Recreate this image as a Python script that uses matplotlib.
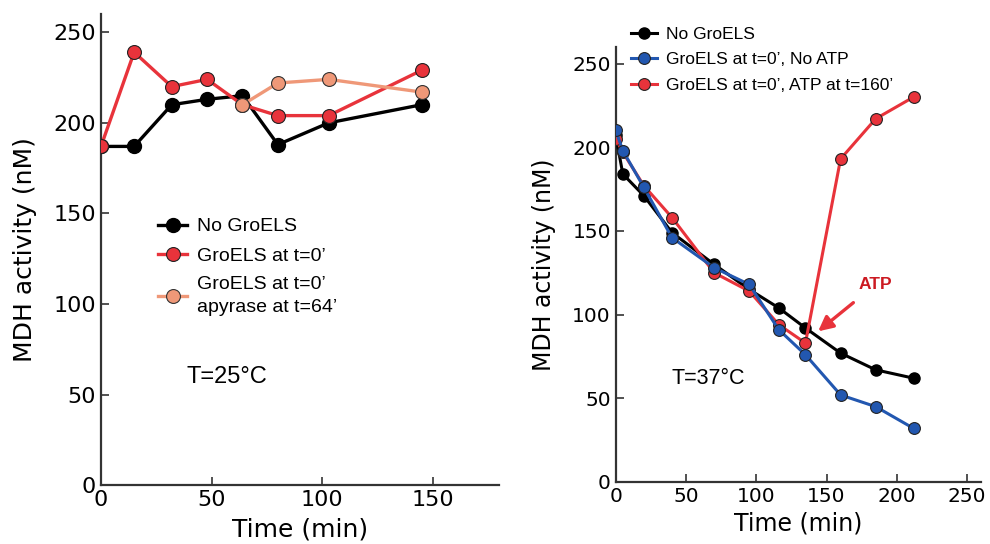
import matplotlib
matplotlib.use('Agg')
import matplotlib.pyplot as plt

# left panel, T=25C
t25_black = [0, 15, 32, 48, 64, 80, 103, 145]
y25_black = [187, 187, 210, 213, 215, 188, 200, 210]
t25_red = [0, 15, 32, 48, 64, 80, 103, 145]
y25_red = [187, 239, 220, 224, 210, 204, 204, 229]
t25_apy = [64, 80, 103, 145]
y25_apy = [210, 222, 224, 217]

# right panel, T=37C
t37 = [0, 5, 20, 40, 70, 95, 116, 135, 160, 185, 212]
y37_black = [207, 184, 171, 149, 130, 115, 104, 92, 77, 67, 62]
y37_blue = [210, 198, 176, 146, 128, 118, 91, 76, 52, 45, 32]
t37_red = [0, 5, 20, 40, 70, 95, 116, 135, 160, 185, 212]
y37_red = [205, 197, 177, 158, 125, 114, 94, 83, 193, 217, 230]

labels_left = ['No GroELS', "GroELS at t=0’", "GroELS at t=0’\napyrase at t=64’"]
labels_right = ['No GroELS', "GroELS at t=0’, No ATP", "GroELS at t=0’, ATP at t=160’"]

RED = '#e8333b'
SALMON = '#ef9878'
BLUE = '#2257b0'
sans = ['Liberation Sans', 'DejaVu Sans']

fig = plt.figure(figsize=(9.9, 5.44), dpi=100)


def style(ax, fs):
    for s in ['top', 'right']:
        ax.spines[s].set_visible(False)
    for s in ['left', 'bottom']:
        ax.spines[s].set_linewidth(1.6)
        ax.spines[s].set_color('#333333')
    ax.tick_params(direction='in', length=6, width=1.2, labelsize=fs, color='#333333')


ax1 = fig.add_axes([0.102, 0.108, 0.402, 0.866])
ax1.plot(t25_black, y25_black, '-o', color='black', lw=2.4, ms=10, mec='black', label=labels_left[0], zorder=3)
ax1.plot(t25_red, y25_red, '-o', color=RED, lw=2.4, ms=10, mec='#222222', mew=0.8, label=labels_left[1], zorder=4)
ax1.plot(t25_apy, y25_apy, '-o', color=SALMON, lw=2.4, ms=10, mec='#333333', mew=0.8, label=labels_left[2], zorder=5)
ax1.set_xlim(0, 180)
ax1.set_ylim(0, 260)
ax1.set_xticks([0, 50, 100, 150])
ax1.set_yticks([0, 50, 100, 150, 200, 250])
style(ax1, 16)
ax1.set_xlabel('Time (min)', fontsize=18, labelpad=5)
ax1.set_ylabel('MDH activity (nM)', fontsize=18, labelpad=12)
ax1.text(57, 60, 'T=25°C', fontsize=17, family=sans, ha='center', va='center')
leg1 = ax1.legend(loc='upper left', bbox_to_anchor=(0.1, 0.605), frameon=False,
                  prop={'family': sans, 'size': 14}, handlelength=1.5, handletextpad=0.5,
                  labelspacing=0.6)
for t in leg1.get_texts():
    t.set_linespacing(1.45)

ax2 = fig.add_axes([0.622, 0.114, 0.369, 0.800])
ax2.plot(t37, y37_black, '-o', color='black', lw=2.2, ms=8, mec='black', label=labels_right[0], zorder=3)
ax2.plot(t37, y37_blue, '-o', color=BLUE, lw=2.2, ms=8.5, mec='#222222', mew=0.8, label=labels_right[1], zorder=5)
ax2.plot(t37_red, y37_red, '-o', color=RED, lw=2.2, ms=8.5, mec='#222222', mew=0.8, label=labels_right[2], zorder=4)
ax2.set_xlim(0, 260)
ax2.set_ylim(0, 260)
ax2.set_xticks([0, 50, 100, 150, 200, 250])
ax2.set_yticks([0, 50, 100, 150, 200, 250])
style(ax2, 14.5)
ax2.set_xlabel('Time (min)', fontsize=17, labelpad=4)
ax2.set_ylabel('MDH activity (nM)', fontsize=17, labelpad=12)
ax2.text(66, 62, 'T=37°C', fontsize=15.5, family=sans, ha='center', va='center')
ax2.annotate('ATP', xy=(144, 90), xytext=(185, 118), color='#cc1a22', fontsize=12.5,
             fontweight='bold', family=sans, ha='center', va='center',
             arrowprops=dict(arrowstyle='-|>', color=RED, lw=2.4, mutation_scale=22,
                             shrinkA=9, shrinkB=0))
ax2.legend(loc='upper left', bbox_to_anchor=(0.0, 1.082), frameon=False,
           prop={'family': sans, 'size': 12.5}, handlelength=1.5, handletextpad=0.5,
           labelspacing=0.6)

fig.savefig('out.png', dpi=100)
